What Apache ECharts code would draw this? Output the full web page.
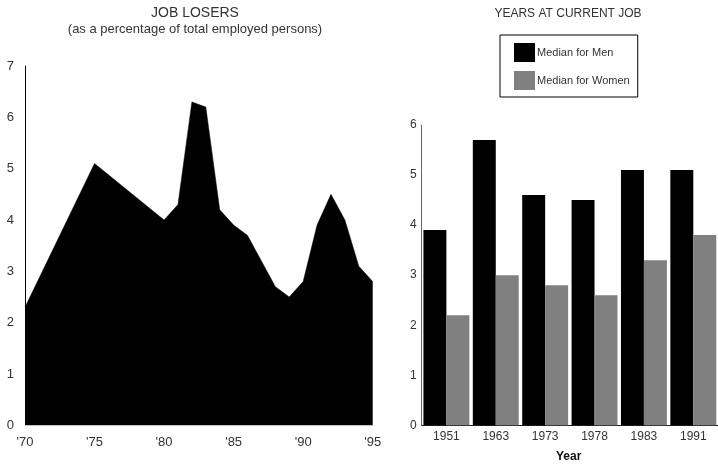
<!DOCTYPE html>
<html>
<head>
<meta charset="utf-8">
<script src="https://cdn.jsdelivr.net/npm/echarts@6/dist/echarts.min.js"></script>
<style>
html,body{margin:0;padding:0;background:#fff;}
#c{width:718px;height:468px;}
</style>
</head>
<body>
<div id="c"></div>
<script>
// Left chart: job losers (% of total employed persons)
var loserYears = [1970, 1975, 1980, 1981, 1982, 1983, 1984, 1985, 1986, 1988, 1989, 1990, 1991, 1992, 1993, 1994, 1995];
var loserValues = [2.3, 5.1, 4.0, 4.3, 6.3, 6.2, 4.2, 3.9, 3.7, 2.7, 2.5, 2.8, 3.9, 4.5, 4.0, 3.1, 2.8];
var loserTickLabels = {1970: "'70", 1975: "'75", 1980: "'80", 1985: "'85", 1990: "'90", 1995: "'95"};

// Right chart: years at current job
var jobYears = ['1951', '1963', '1973', '1978', '1983', '1991'];
var medianMen = [3.9, 5.7, 4.6, 4.5, 5.1, 5.1];
var medianWomen = [2.2, 3.0, 2.8, 2.6, 3.3, 3.8];

var FONT = "'Liberation Sans', Arial, sans-serif";
var TXT = '#333';

var chart = echarts.init(document.getElementById('c'), null, {renderer: 'canvas'});
chart.setOption({
  animation: false,
  textStyle: {fontFamily: FONT},
  title: [
    {
      text: 'JOB LOSERS',
      subtext: '(as a percentage of total employed persons)',
      left: 190, top: 1, textAlign: 'center', itemGap: 3,
      textStyle: {fontFamily: FONT, fontSize: 14, fontWeight: 'normal', color: TXT},
      subtextStyle: {fontFamily: FONT, fontSize: 13, color: TXT}
    },
    {
      text: 'YEARS AT CURRENT JOB',
      left: 563, top: 3, textAlign: 'center',
      textStyle: {fontFamily: FONT, fontSize: 12, fontWeight: 'normal', color: TXT}
    }
  ],
  legend: {
    data: ['Median for Men', 'Median for Women'],
    orient: 'vertical',
    left: 500, top: 35,
    padding: [8, 8, 7, 14],
    itemWidth: 21, itemHeight: 19, itemGap: 9,
    borderColor: '#000', borderWidth: 1,
    icon: 'rect',
    textStyle: {fontFamily: FONT, fontSize: 11, color: TXT, padding: [2, 0, 0, -3]}
  },
  grid: [
    {left: 25, top: 66, width: 347.7, height: 359.3},
    {left: 421.7, top: 125, width: 300, height: 300.3}
  ],
  xAxis: [
    {
      gridIndex: 0, type: 'value', min: 1970, max: 1995, interval: 5,
      axisLine: {show: true, lineStyle: {color: '#ddd', width: 1}},
      axisTick: {show: false}, splitLine: {show: false},
      axisLabel: {
        fontFamily: FONT, fontSize: 13, color: TXT, margin: 11,
        formatter: function (v) { return loserTickLabels[v] || ''; }
      }
    },
    {
      gridIndex: 1, type: 'category', data: jobYears,
      axisLine: {show: true, lineStyle: {color: '#222', width: 1}},
      axisTick: {show: false},
      axisLabel: {fontFamily: FONT, fontSize: 12, color: TXT, margin: 5}
    }
  ],
  yAxis: [
    {
      gridIndex: 0, type: 'value', min: 0, max: 7, interval: 1,
      axisLine: {show: true, lineStyle: {color: '#000', width: 1}},
      axisTick: {show: false}, splitLine: {show: false},
      axisLabel: {fontFamily: FONT, fontSize: 13, color: TXT, margin: 11}
    },
    {
      gridIndex: 1, type: 'value', min: 0, max: 6, interval: 1,
      axisLine: {show: true, lineStyle: {color: '#666', width: 1}},
      axisTick: {show: false}, splitLine: {show: false},
      axisLabel: {fontFamily: FONT, fontSize: 12, color: TXT, margin: 5}
    }
  ],
  graphic: [
    {
      type: 'text', left: 556, top: 451,
      style: {text: 'Year', font: "bold 12px " + FONT, fill: '#111'}
    }
  ],
  series: [
    {
      name: 'Job Losers', type: 'line', xAxisIndex: 0, yAxisIndex: 0,
      data: loserYears.map(function (y, i) { return [y, loserValues[i]]; }),
      symbol: 'none', lineStyle: {color: '#000', width: 0.5},
      areaStyle: {color: '#000', opacity: 1}, z: 1
    },
    {
      name: 'Median for Men', type: 'bar', xAxisIndex: 1, yAxisIndex: 1,
      data: medianMen, itemStyle: {color: '#000'},
      barGap: '0%', barCategoryGap: '7%'
    },
    {
      name: 'Median for Women', type: 'bar', xAxisIndex: 1, yAxisIndex: 1,
      data: medianWomen, itemStyle: {color: '#808080'},
      barGap: '0%', barCategoryGap: '7%'
    }
  ]
});
</script>
</body>
</html>
